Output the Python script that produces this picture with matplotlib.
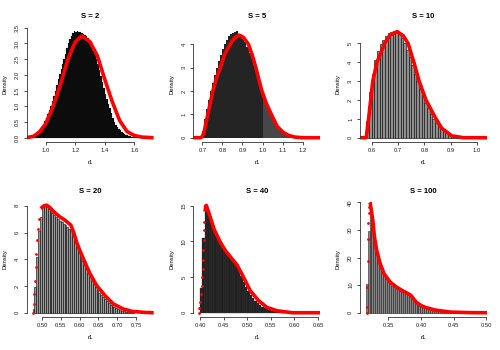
import numpy as np
import matplotlib
matplotlib.use("Agg")
import matplotlib.pyplot as plt

plt.rcParams['font.family'] = ['Liberation Sans', 'DejaVu Sans']

# ---- S = 2 ----
s2_start, s2_bin = 0.90, 0.01
s2_dens = [0.02, 0.03, 0.05, 0.08, 0.12, 0.17, 0.23, 0.31, 0.40, 0.52, 0.64,
           0.76, 0.88, 1.02, 1.18, 1.33, 1.49, 1.68, 1.86, 2.04, 2.19, 2.35,
           2.50, 2.67, 2.84, 3.00, 3.13, 3.24, 3.34, 3.40, 3.37, 3.40, 3.36,
           3.38, 3.33, 3.30, 3.28, 3.24, 3.18, 3.12, 3.06, 2.98, 2.83, 2.68,
           2.52, 2.34, 2.16, 1.98, 1.78, 1.57, 1.38, 1.22, 1.08, 0.93, 0.78,
           0.64, 0.51, 0.39, 0.33, 0.28, 0.23, 0.19, 0.15, 0.12, 0.10, 0.08,
           0.06, 0.045, 0.035, 0.025, 0.018, 0.012, 0.008]
s2_cx = [0.87, 0.92, 0.96, 1.00, 1.05, 1.10, 1.15, 1.20, 1.245, 1.30, 1.35, 1.40,
         1.45, 1.50, 1.55, 1.60, 1.65, 1.73]
s2_cy = [0.0, 0.05, 0.2, 0.45, 1.0, 1.7, 2.5, 3.05, 3.24, 3.05, 2.6, 1.85,
         1.15, 0.55, 0.2, 0.07, 0.02, 0.0]
s2_xlim = (0.871, 1.731)
s2_xticks = [1.0, 1.2, 1.4, 1.6]
s2_yticks = [0.0, 0.5, 1.0, 1.5, 2.0, 2.5, 3.0, 3.5]

# ---- S = 5 ----
s5_start, s5_bin = 0.70, 0.01
s5_dens = [0.3, 0.8, 1.25, 1.6, 2.0, 2.35, 2.7, 3.0, 3.3, 3.55, 3.8, 4.0, 4.2,
           4.35, 4.45, 4.5, 4.55, 4.58, 4.45, 4.35, 4.25, 4.1, 3.9, 3.65, 3.4,
           3.1, 2.85, 2.55, 2.25, 2.0, 1.75, 1.5, 1.25, 1.05, 0.88, 0.72, 0.58,
           0.46, 0.35, 0.27, 0.2, 0.14, 0.1, 0.07, 0.04, 0.02, 0.01]
s5_cx = [0.655, 0.69, 0.70, 0.71, 0.727, 0.752, 0.77, 0.789, 0.81, 0.838, 0.86,
         0.883, 0.905, 0.93, 0.95, 0.967, 0.98, 0.997, 1.02, 1.044, 1.072, 1.10,
         1.13, 1.16, 1.20, 1.29]
s5_cy = [0.0, 0.0, 0.05, 0.3, 1.0, 2.0, 2.55, 3.0, 3.55, 4.0, 4.28, 4.40, 4.3,
         4.0, 3.5, 3.0, 2.55, 2.0, 1.45, 1.0, 0.5, 0.25, 0.1, 0.03, 0.0, 0.0]
s5_xlim = (0.655, 1.2885)
s5_xticks = [0.7, 0.8, 0.9, 1.0, 1.1, 1.2]
s5_yticks = [0, 1, 2, 3, 4]

# ---- S = 10 ----
s10_start, s10_bin = 0.58, 0.01
s10_dens = [0.9, 2.4, 3.4, 4.1, 4.6, 4.95, 5.2, 5.4, 5.55, 5.62, 5.66, 5.62, 5.5,
            5.3, 5.0, 4.65, 4.25, 3.85, 3.4, 3.0, 2.6, 2.2, 1.85, 1.55, 1.25,
            1.0, 0.8, 0.6, 0.45, 0.33, 0.24, 0.16, 0.1, 0.06, 0.03, 0.015]
s10_cx = [0.556, 0.579, 0.588, 0.596, 0.604, 0.62, 0.649, 0.67, 0.697, 0.72,
          0.738, 0.76, 0.78, 0.806, 0.844, 0.866, 0.904, 0.949, 1.038]
s10_cy = [0.0, 0.0, 1.0, 2.0, 3.0, 4.0, 5.0, 5.45, 5.62, 5.4, 5.0, 4.0, 3.0,
          2.0, 1.0, 0.5, 0.1, 0.0, 0.0]
s10_xlim = (0.5556, 1.038)
s10_xticks = [0.6, 0.7, 0.8, 0.9, 1.0]
s10_yticks = [0, 1, 2, 3, 4, 5]

# ---- S = 20 ----
s20_start, s20_bin = 0.475, 0.005
s20_dens = [0.3, 1.9, 4.2, 6.1, 7.2, 7.9, 8.0, 7.95, 7.8, 7.6, 7.45, 7.3, 7.15,
            7.0, 6.9, 6.8, 6.65, 6.55, 6.45, 6.3, 6.2, 5.9, 5.4, 5.0, 4.6, 4.25,
            3.9, 3.55, 3.25, 2.95, 2.65, 2.4, 2.15, 1.9, 1.7, 1.5, 1.32, 1.15,
            1.0, 0.85, 0.72, 0.6, 0.5, 0.4, 0.32, 0.25, 0.2, 0.15, 0.11, 0.08,
            0.06, 0.04, 0.03, 0.02]
s20_rx = [0.4770, 0.4779, 0.4797, 0.4814, 0.4832, 0.4850, 0.4867, 0.4885, 0.4912]
s20_ry = [0.0, 0.65, 1.4, 2.41, 3.41, 4.42, 5.42, 6.3, 7.05]
s20_cx = [0.4965, 0.505, 0.5124, 0.52, 0.53, 0.54, 0.548, 0.56, 0.570, 0.577,
          0.585, 0.592, 0.600, 0.610, 0.620, 0.628, 0.6455, 0.6676, 0.690,
          0.716, 0.74, 0.775, 0.797]
s20_cy = [7.8, 8.0, 8.05, 7.9, 7.6, 7.35, 7.17, 6.95, 6.72, 6.55, 5.95, 5.29,
          4.7, 4.04, 3.4, 2.91, 2.03, 1.28, 0.65, 0.28, 0.1, 0.02, 0.0]
s20_xlim = (0.4593, 0.797)
s20_xticks = [0.50, 0.55, 0.60, 0.65, 0.70, 0.75]
s20_yticks = [0, 2, 4, 6, 8]

# ---- S = 40 ----
s40_start, s40_bin = 0.400, 0.005
s40_dens = [3.5, 10.5, 15.0, 14.2, 13.0, 12.0, 11.2, 10.5, 9.9, 9.3, 8.8, 8.3,
            7.9, 7.5, 7.1, 6.7, 6.0, 5.1, 4.3, 3.6, 3.0, 2.5, 2.1, 1.7, 1.4,
            1.1, 0.85, 0.65, 0.5, 0.37, 0.27, 0.19, 0.13, 0.08, 0.05, 0.03]
s40_rx = [0.3986, 0.3986, 0.4007, 0.4021, 0.4035, 0.4050, 0.4057, 0.4064,
          0.4071, 0.4078, 0.4085, 0.4092]
s40_ry = [0.0, 0.61, 1.46, 2.64, 3.82, 5.0, 6.18, 7.45, 8.77, 10.2, 11.6, 12.8]
s40_cx = [0.4106, 0.412, 0.4134, 0.4212, 0.4304, 0.4425, 0.4531, 0.4673, 0.478,
          0.492, 0.5062, 0.524, 0.5417, 0.563, 0.595, 0.655]
s40_cy = [14.2, 15.0, 15.05, 13.5, 11.6, 9.95, 8.77, 7.6, 6.74, 5.0, 3.11, 1.7,
          0.75, 0.28, 0.0, 0.0]
s40_xlim = (0.3858, 0.655)
s40_xticks = [0.40, 0.45, 0.50, 0.55, 0.60, 0.65]
s40_yticks = [0, 5, 10, 15]

# ---- S = 100 ----
s100_start, s100_bin = 0.315, 0.003
s100_dens = [10.5, 29.5, 38.7, 35.0, 28.0, 23.0, 19.5, 17.0, 15.0, 13.5, 12.2,
             11.2, 10.4, 9.7, 9.2, 8.7, 8.3, 7.9, 7.5, 7.2, 6.9, 6.5, 6.0, 4.9,
             4.1, 3.5, 3.0, 2.6, 2.25, 1.95, 1.7, 1.5, 1.3, 1.15, 1.0, 0.85,
             0.72, 0.6, 0.5, 0.42, 0.35, 0.28, 0.22, 0.17, 0.13, 0.1, 0.07, 0.05]
s100_rx = [0.3168, 0.3173, 0.3178, 0.3183, 0.3189, 0.3194, 0.3199, 0.3204]
s100_ry = [0.0, 1.95, 9.2, 18.7, 26.6, 32.6, 36.2, 38.4]
s100_cx = [0.3209, 0.3219, 0.3245, 0.326, 0.3285, 0.332, 0.3373, 0.3434, 0.3526,
           0.3629, 0.373, 0.380, 0.3845, 0.3925, 0.40, 0.4063, 0.4217, 0.4447,
           0.4755, 0.501]
s100_cy = [39.9, 40.0, 36.0, 33.6, 27.5, 22.6, 17.8, 14.1, 11.1, 9.2, 7.8, 6.9,
           6.3, 3.8, 2.6, 1.95, 0.97, 0.24, 0.03, 0.0]
s100_xlim = (0.3065, 0.501)
s100_xticks = [0.35, 0.40, 0.45, 0.50]
s100_yticks = [0, 10, 20, 30, 40]


def panel(ax, title, start, width, dens, cx, cy, xlim, xticks, xfmt, yticks, yfmt,
          face, edge, elw, rx=None, ry=None, light_from=None):
    dens = np.array(dens)
    edges = start + width * np.arange(len(dens))
    colors = [face] * len(dens)
    if light_from is not None:
        colors = ['#474747' if e >= light_from - 1e-9 else face for e in edges]
    ax.bar(edges, dens, width=width, align='edge', color=colors,
           edgecolor=edge, linewidth=elw)
    ax.plot(cx, cy, color='red', lw=2.6, solid_capstyle='butt')
    if rx is not None:
        ax.plot(rx, ry, 'o', color='red', ms=2.0, mew=0)
    m = dens.max()
    ax.set_xlim(*xlim)
    ax.set_ylim(-0.04 * m, 1.04 * m)
    ax.set_xticks(xticks)
    ax.set_xticklabels([xfmt.format(v) for v in xticks])
    ax.set_yticks(yticks)
    ax.set_yticklabels([yfmt.format(v) for v in yticks], rotation=90, va='center')
    for s in ['top', 'right']:
        ax.spines[s].set_visible(False)
    ax.spines['left'].set_bounds(yticks[0], yticks[-1])
    ax.spines['bottom'].set_bounds(xticks[0], xticks[-1])
    for s in ['left', 'bottom']:
        ax.spines[s].set_linewidth(0.6)
        ax.spines[s].set_color('#333333')
    ax.tick_params(axis='both', length=2.4, width=0.6, color='#333333',
                   labelsize=4.2, labelcolor='#222222')
    ax.tick_params(axis='x', pad=2.0)
    ax.tick_params(axis='y', pad=2.6)
    ax.set_title(title, fontsize=5.6, fontweight='bold', pad=6.0)
    ax.set_xlabel('r1', fontsize=4.2)
    ax.set_ylabel('Density', fontsize=4.2)
    ax.xaxis.set_label_coords(0.5, -0.16)
    ax.yaxis.set_label_coords(-0.15, 0.5)


fig = plt.figure(figsize=(5, 3.5), dpi=100)
W, H = 500.0, 350.0


def make_ax(col, row):
    left = 26.7 + 166.67 * col
    bottom = 142 + 175 * row
    return fig.add_axes([left / W, 1 - bottom / H, 127 / W, 115.4 / H])


panel(make_ax(0, 0), 'S = 2', s2_start, s2_bin, s2_dens, s2_cx, s2_cy, s2_xlim,
      s2_xticks, '{:.1f}', s2_yticks, '{:.1f}', '#0c0c0c', '#0c0c0c', 0.1)
panel(make_ax(1, 0), 'S = 5', s5_start, s5_bin, s5_dens, s5_cx, s5_cy, s5_xlim,
      s5_xticks, '{:.1f}', s5_yticks, '{:d}', '#242424', 'none', 0,
      light_from=1.0)
panel(make_ax(2, 0), 'S = 10', s10_start, s10_bin, s10_dens, s10_cx, s10_cy, s10_xlim,
      s10_xticks, '{:.1f}', s10_yticks, '{:d}', '#8f8f8f', '#111111', 0.45)
panel(make_ax(0, 1), 'S = 20', s20_start, s20_bin, s20_dens, s20_cx, s20_cy, s20_xlim,
      s20_xticks, '{:.2f}', s20_yticks, '{:d}', '#9a9a9a', '#111111', 0.45,
      rx=s20_rx, ry=s20_ry)
panel(make_ax(1, 1), 'S = 40', s40_start, s40_bin, s40_dens, s40_cx, s40_cy, s40_xlim,
      s40_xticks, '{:.2f}', s40_yticks, '{:d}', '#202020', '#3c3c3c', 0.25,
      rx=s40_rx, ry=s40_ry)
panel(make_ax(2, 1), 'S = 100', s100_start, s100_bin, s100_dens, s100_cx, s100_cy,
      s100_xlim, s100_xticks, '{:.2f}', s100_yticks, '{:d}', '#858585', '#222222', 0.4,
      rx=s100_rx, ry=s100_ry)

fig.savefig('out.png', dpi=100, facecolor='white')
